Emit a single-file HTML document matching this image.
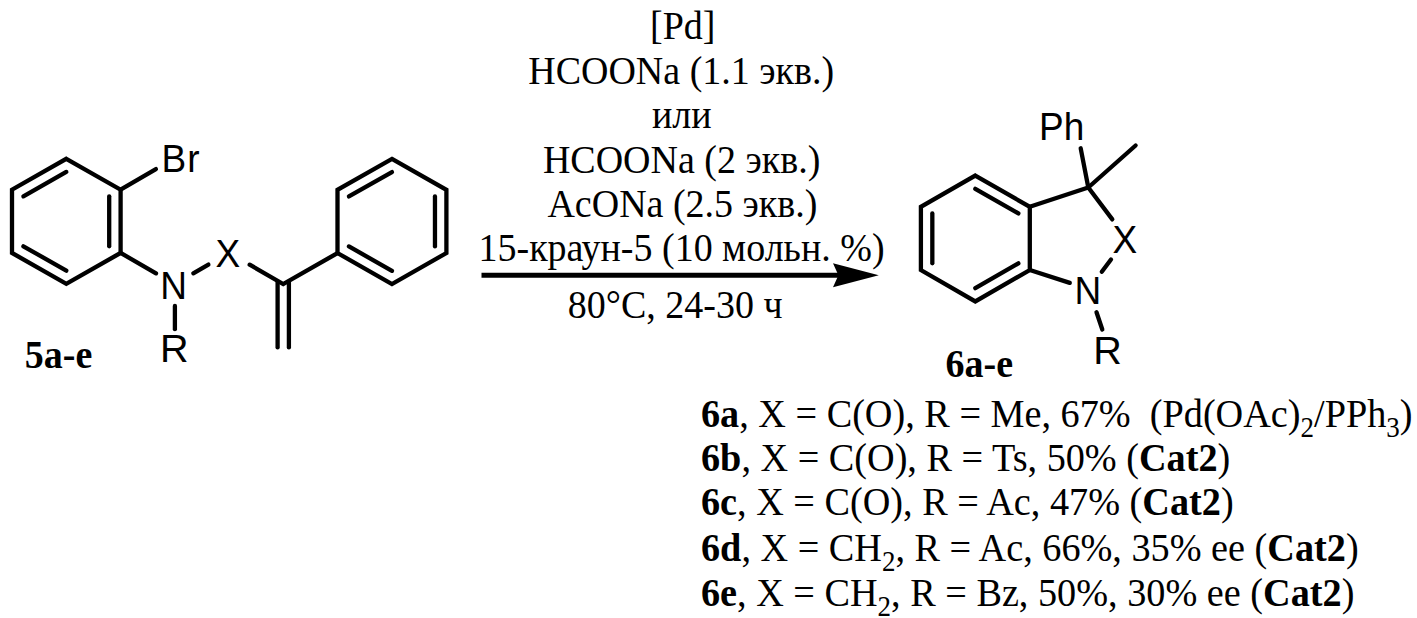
<!DOCTYPE html>
<html><head><meta charset="utf-8"><title>Scheme</title>
<style>
html,body{margin:0;padding:0;background:#fff;width:1417px;height:618px;overflow:hidden}
svg{display:block;position:absolute;left:0;top:0}
.t{font-family:"Liberation Serif",serif;font-size:38px;fill:#000}
.a{font-family:"Liberation Sans",sans-serif;font-size:37px;fill:#000}
.b{font-weight:bold}
.s{font-size:27px}
.r{font-size:38.25px}
</style></head>
<body>
<svg width="1417" height="618" viewBox="0 0 1417 618">
<g fill="none" stroke="#000" stroke-width="4.3" stroke-linejoin="miter" stroke-linecap="round">
<!-- ring A -->
<polygon points="66.3,158.8 120.6,189.7 120.6,252.9 66.3,283.8 12,252.9 12,189.7"/>
<line class="rc" x1="109.2" y1="196.34" x2="109.2" y2="246.26"/>
<line class="rc" x1="66.3" y1="270.68" x2="23.4" y2="246.26"/>
<line class="rc" x1="23.4" y1="196.34" x2="66.3" y2="171.93"/>
<!-- ring B -->
<polygon points="391.95,158.9 446.4,189.85 446.4,253.05 391.95,284 337.5,253.05 337.5,189.85"/>
<line class="rc" x1="434.97" y1="196.49" x2="434.97" y2="246.41"/>
<line class="rc" x1="391.95" y1="270.86" x2="348.93" y2="246.41"/>
<line class="rc" x1="348.93" y1="196.49" x2="391.95" y2="172.04"/>
<!-- ring C -->
<polygon points="975.3,175.6 1029.8,206.8 1029.8,270 975.3,301.4 920.9,270 920.9,206.8"/>
<line class="rc" x1="975.31" y1="188.79" x2="1018.36" y2="213.44"/>
<line class="rc" x1="1018.36" y1="263.37" x2="975.31" y2="288.18"/>
<line class="rc" x1="932.33" y1="263.37" x2="932.33" y2="213.44"/>

<!-- left molecule bonds -->
<line x1="120.6" y1="189.7" x2="155.9" y2="169.1"/>
<line x1="120.6" y1="252.9" x2="156" y2="273.35"/>
<line x1="193.3" y1="273.3" x2="208.4" y2="264.6"/>
<line x1="174.9" y1="305.9" x2="174.9" y2="329.2"/>
<polyline points="249.7,264.7 283.2,284.1 337.5,253.05"/>
<line x1="277.6" y1="281.8" x2="277.6" y2="347.4"/>
<line x1="288.9" y1="281.8" x2="288.9" y2="347.4"/>
<!-- product bonds -->
<polyline points="1029.8,206.8 1088.3,187.5 1112.3,219.4"/>
<line x1="1088.3" y1="187.5" x2="1080.7" y2="148.3"/>
<line x1="1088.3" y1="187.5" x2="1135.6" y2="145.5"/>
<line x1="1029.8" y1="270" x2="1069.8" y2="282.9"/>
<line x1="1101.8" y1="271.8" x2="1111" y2="259.5"/>
<line x1="1096.5" y1="312.3" x2="1102.3" y2="329.5"/>
</g>
<!-- arrow -->
<line x1="481.5" y1="275.3" x2="845" y2="275.3" stroke="#000" stroke-width="5"/>
<polygon points="878.8,275.3 833,263.3 838.4,275.3 833,287.2" fill="#000"/>

<!-- atom labels -->
<text class="a" transform="translate(161.6,172.1) scale(1,1.035)" letter-spacing="1">Br</text>
<text class="a" transform="translate(160.2,298.7) scale(1,1.05)">N</text>
<text class="a" transform="translate(215.5,267.4) scale(1,1.045)">X</text>
<text class="a" transform="translate(159.9,361.5) scale(1.07,1.04)">R</text>
<text class="a" transform="translate(1039,140.4) scale(1,1.025)">Ph</text>
<text class="a" transform="translate(1112.4,252.9) scale(1,1.05)">X</text>
<text class="a" transform="translate(1074.4,303.5) scale(1,1.035)">N</text>
<text class="a" transform="translate(1093.3,364) scale(1.07,1.04)">R</text>

<!-- compound labels -->
<text class="t b" transform="translate(24.8,368) scale(1,1.055)">5a-e</text>
<text class="t b" transform="translate(945.6,377.4) scale(1,1.055)">6a-e</text>
<!-- conditions -->
<text class="t" transform="translate(650,39.1) scale(1,1.055)">[Pd]</text>
<text class="t" transform="translate(528.2,83.8) scale(1,1.055)">HCOONa (1.1 экв.)</text>
<text class="t" transform="translate(652,127.7) scale(1,1.055)">или</text>
<text class="t" transform="translate(542.9,172.6) scale(1,1.055)">HCOONa (2 экв.)</text>
<text class="t" transform="translate(547.4,216.7) scale(1,1.055)">AcONa (2.5 экв.)</text>
<text class="t" transform="translate(478.5,261.0) scale(1,1.055)">15-краун-5 (10 мольн. %)</text>
<text class="t" transform="translate(567.8,317.9) scale(1,1.055)">80°C, 24-30 ч</text>
<!-- results -->
<text class="t r" transform="translate(701,426.8) scale(1,1.055)" xml:space="preserve"><tspan class="b">6a</tspan>, X = C(O), R = Me, 67%  (Pd(OAc)<tspan class="s" dy="9.5">2</tspan><tspan dy="-9.5">/PPh</tspan><tspan class="s" dy="9.5">3</tspan><tspan dy="-9.5">)</tspan></text>
<text class="t r" transform="translate(701,471.2) scale(1,1.055)" xml:space="preserve"><tspan class="b">6b</tspan>, X = C(O), R = Ts, 50% (<tspan class="b">Cat2</tspan>)</text>
<text class="t r" transform="translate(701,515.4) scale(1,1.055)" xml:space="preserve"><tspan class="b">6c</tspan>, X = C(O), R = Ac, 47% (<tspan class="b">Cat2</tspan>)</text>
<text class="t r" transform="translate(701,560.7) scale(1,1.055)" xml:space="preserve"><tspan class="b">6d</tspan>, X = CH<tspan class="s" dy="9.5">2</tspan><tspan dy="-9.5">, R = Ac, 66%, 35% ee (</tspan><tspan class="b">Cat2</tspan>)</text>
<text class="t r" transform="translate(701,605.6) scale(1,1.055)" xml:space="preserve"><tspan class="b">6e</tspan>, X = CH<tspan class="s" dy="9.5">2</tspan><tspan dy="-9.5">, R = Bz, 50%, 30% ee (</tspan><tspan class="b">Cat2</tspan>)</text>
</svg>
</body></html>
